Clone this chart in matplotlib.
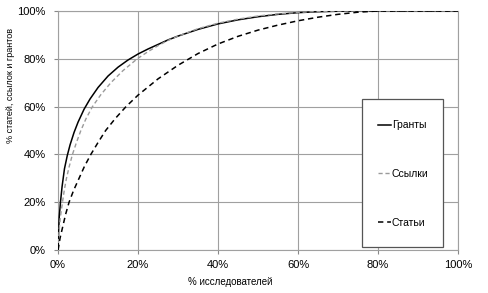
import matplotlib
matplotlib.use("Agg")
import matplotlib.pyplot as plt
from matplotlib.patches import Rectangle
from matplotlib.ticker import FuncFormatter

plt.rcParams['font.family'] = ['Liberation Sans', 'DejaVu Sans']

# % исследователей -> % грантов
grants_x = [0, 0.1, 0.3, 0.6, 1.0, 1.6, 2.3, 3, 4, 5, 6.5, 8, 10, 12.5, 15, 17.5, 20, 22.5, 25, 27.5, 30,
            35, 40, 45, 50, 55, 60, 65, 70, 75, 100]
grants_y = [0, 7, 14, 20, 26.5, 34, 39.5, 44, 49.2, 53.5, 58.9, 63.2, 68, 72.8, 76.5, 79.5, 82, 84.1, 86, 87.9, 89.5,
            92.3, 94.6, 96.3, 97.6, 98.6, 99.3, 99.7, 99.9, 100, 100]

# ссылки
refs_x = [0, 0.25, 0.6, 1.1, 1.6, 2.1, 2.8, 3.6, 4.6, 5.7, 7, 8.6, 10.7, 13.2, 16.2, 19.8, 22.5, 25, 27.5, 30,
          35, 40, 45, 50, 55, 60, 65, 70, 100]
refs_y = [0, 8, 14, 20, 25.5, 30, 35, 40, 45, 50, 55, 60, 65, 70, 75, 80, 83, 85.5, 87.7, 89.5,
          92.6, 94.9, 96.6, 97.9, 98.8, 99.4, 99.8, 100, 100]

# статьи
papers_x = [0, 0.5, 1.2, 1.9, 2.75, 3.9, 5.25, 6.6, 8.2, 10, 11.9, 14.3, 17, 20, 25, 30, 35, 40, 45, 50,
            55, 60, 65, 70, 75, 80, 100]
papers_y = [0, 5, 10, 15, 20, 25, 30, 35, 40, 45, 50, 55, 60, 64.8, 71.6, 77.3, 82.2, 86.2, 89.4, 92,
            94.1, 95.9, 97.4, 98.6, 99.5, 100, 100]

ticks = [0, 20, 40, 60, 80, 100]

fig = plt.figure(figsize=(4.88, 2.93), dpi=100)
ax = fig.add_axes([0.119, 0.1468, 0.8195, 0.8157])

ax.plot(grants_x, grants_y, color='black', lw=1.1, label='Гранты', zorder=3)
ax.plot(refs_x, refs_y, color='#9a9a9a', lw=1.0, ls=(0, (3, 2)), label='Ссылки', zorder=3)
ax.plot(papers_x, papers_y, color='black', lw=1.1, ls=(0, (3.5, 2.5)), label='Статьи', zorder=3)

ax.set_xlim(0, 100)
ax.set_ylim(0, 100)
ax.set_xticks(ticks)
ax.set_yticks(ticks)
pct = FuncFormatter(lambda v, p: '%d%%' % v)
ax.xaxis.set_major_formatter(pct)
ax.yaxis.set_major_formatter(pct)
ax.tick_params(labelsize=8, length=3, color='#888888', width=0.8)
ax.tick_params(axis='x', pad=4)
ax.tick_params(axis='y', pad=6)
ax.grid(True, color='#a0a0a0', lw=0.8)
for s in ax.spines.values():
    s.set_color('#a0a0a0')
    s.set_linewidth(0.8)

ax.set_xlabel('% исследователей', fontsize=7)
ax.xaxis.set_label_coords(0.43, -0.112)
ax.set_ylabel('% статей, ссылок и грантов', fontsize=6.5)
ax.yaxis.set_label_coords(-0.108, 0.69)

# рамка легенды
box = Rectangle((0.759, 0.011), 0.203, 0.62, transform=ax.transAxes,
                facecolor='white', edgecolor='#555555', lw=0.9, zorder=4)
ax.add_patch(box)
leg = ax.legend(loc='center', bbox_to_anchor=(0.8625, 0.318), fontsize=7.5,
                handlelength=1.25, handletextpad=0.1, labelspacing=3.72,
                borderpad=0, frameon=False)
leg.set_zorder(5)

fig.savefig('out.png', dpi=100)
